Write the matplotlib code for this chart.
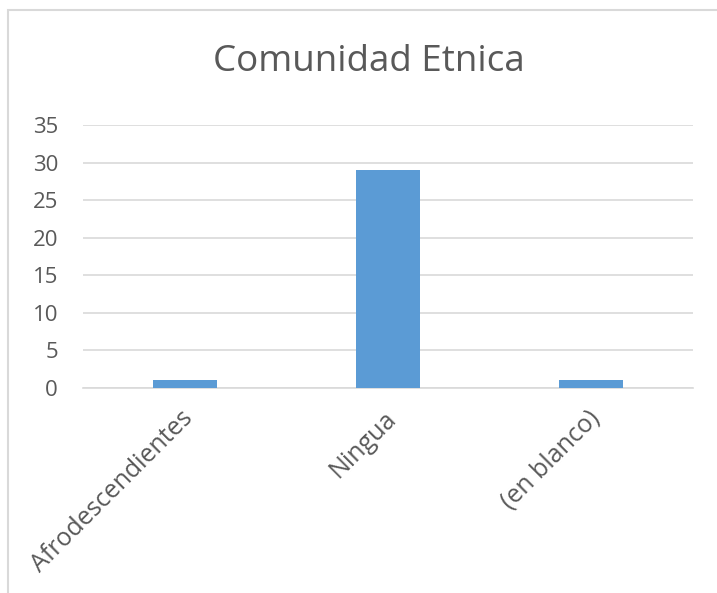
import matplotlib
matplotlib.use("Agg")
import matplotlib.pyplot as plt
from matplotlib.patches import Rectangle
from matplotlib.transforms import ScaledTranslation

categories = ["Afrodescendientes", "Ningua", "(en blanco)"]
values = [1, 29, 1]
yticks = [0, 5, 10, 15, 20, 25, 30, 35]

plt.rcParams['font.family'] = ['Open Sans', 'DejaVu Sans']
W, H = 717, 593
fig = plt.figure(figsize=(W/100, H/100), dpi=100)
fig.patch.set_facecolor('white')

# chart border
fig.add_artist(Rectangle((8/W, -0.1), 1.2, 1 - 10/H + 0.1, transform=fig.transFigure,
                         fill=False, edgecolor='#d9d9d9', linewidth=1.5))

ax = fig.add_axes([83/W, 1 - 388/H, (693-83)/W, (388-125)/H])
x = range(len(categories))
ax.bar(x, values, width=0.315, color='#5b9bd5', zorder=3)
ax.set_xlim(-0.5, len(categories) - 0.5)
ax.set_ylim(0, 35)
ax.set_yticks(yticks)
ax.set_yticklabels([str(t) for t in yticks], fontsize=16, color='#595959')
ax.set_xticks(list(x))
ax.set_xticklabels(categories, rotation=45, ha='right', rotation_mode='anchor',
                   fontsize=18, color='#595959')
ax.tick_params(axis='both', length=0)
ax.tick_params(axis='x', pad=13)
ax.tick_params(axis='y', pad=18)
off = ScaledTranslation(-3/72, 0, fig.dpi_scale_trans)
for lbl in ax.get_xticklabels():
    lbl.set_transform(lbl.get_transform() + off)
ax.grid(axis='y', color='#d9d9d9', linewidth=1.2, zorder=0)
for s in ['top', 'right', 'left']:
    ax.spines[s].set_visible(False)
ax.spines['bottom'].set_color('#d9d9d9')
ax.spines['bottom'].set_linewidth(1.2)

fig.text(369/W, 1 - 62/H, "Comunidad Etnica", fontsize=26.5, color='#595959',
         ha='center', va='center')

fig.savefig("out.png", dpi=100)
